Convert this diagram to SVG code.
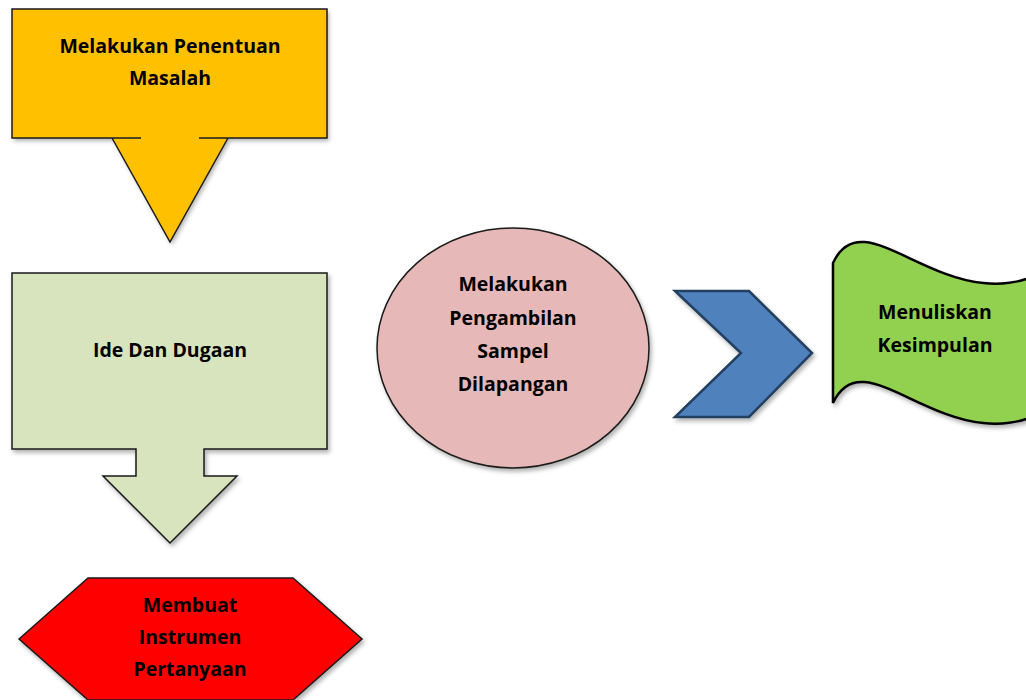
<svg xmlns="http://www.w3.org/2000/svg" width="1026" height="700" viewBox="0 0 1026 700">
<defs>
<filter id="sh" x="-10%" y="-10%" width="130%" height="130%">
<feDropShadow dx="2" dy="3" stdDeviation="2" flood-color="#000" flood-opacity="0.3"/>
</filter>
</defs>
<style>
.t{font-family:"Open Sans","Lato","Liberation Sans",sans-serif;font-weight:bold;font-size:19.5px;fill:#000;text-anchor:middle}
.ln{stroke:#1a1a1a;stroke-width:1.5;stroke-linejoin:miter}
</style>
<rect width="1026" height="700" fill="#fff"/>
<g id="penentuan-masalah">
<polygon points="12,9 327,9 327,138 228,138 170,242 112,138 12,138" fill="#FFC000" filter="url(#sh)"/>
<path class="ln" fill="none" d="M141,138 H12 V9 H327 V138 H199 M112,138 L170,242 L228,138"/>
<text class="t" x="170" y="53">Melakukan Penentuan</text>
<text class="t" x="170" y="85">Masalah</text>
</g>
<g id="ide-dugaan">
<polygon class="ln" points="12,273 327,273 327,449 204,449 204,476 237,476 170,543 103,476 136,476 136,449 12,449" fill="#D7E4BD" filter="url(#sh)"/>
<text class="t" x="170" y="357">Ide Dan Dugaan</text>
</g>
<g id="membuat-instrumen">
<polygon class="ln" points="19,639 88,578 293,578 362,639 293,700 88,700" fill="#FF0000" filter="url(#sh)"/>
<text class="t" x="190" y="612">Membuat</text>
<text class="t" x="190" y="644">Instrumen</text>
<text class="t" x="190" y="676">Pertanyaan</text>
</g>
<g id="pengambilan-sampel">
<ellipse class="ln" cx="513" cy="348" rx="136" ry="120" fill="#E6B9B8" filter="url(#sh)"/>
<text class="t" x="513" y="291">Melakukan</text>
<text class="t" x="513" y="325">Pengambilan</text>
<text class="t" x="513" y="358">Sampel</text>
<text class="t" x="513" y="391">Dilapangan</text>
</g>
<g id="connectors">
<polygon points="675,291 749,291 812,353 749,417 675,417 741,353" fill="#4F81BD" stroke="#243F60" stroke-width="2.5" filter="url(#sh)"/>
</g>
<g id="kesimpulan">
<path d="M833,263 C868,188 960,345 1070,255 L1070,395 C960,485 868,328 833,403 Z" fill="#92D050" stroke="#000" stroke-width="2.5" filter="url(#sh)"/>
<text class="t" x="935" y="319">Menuliskan</text>
<text class="t" x="935" y="352">Kesimpulan</text>
</g>
</svg>
